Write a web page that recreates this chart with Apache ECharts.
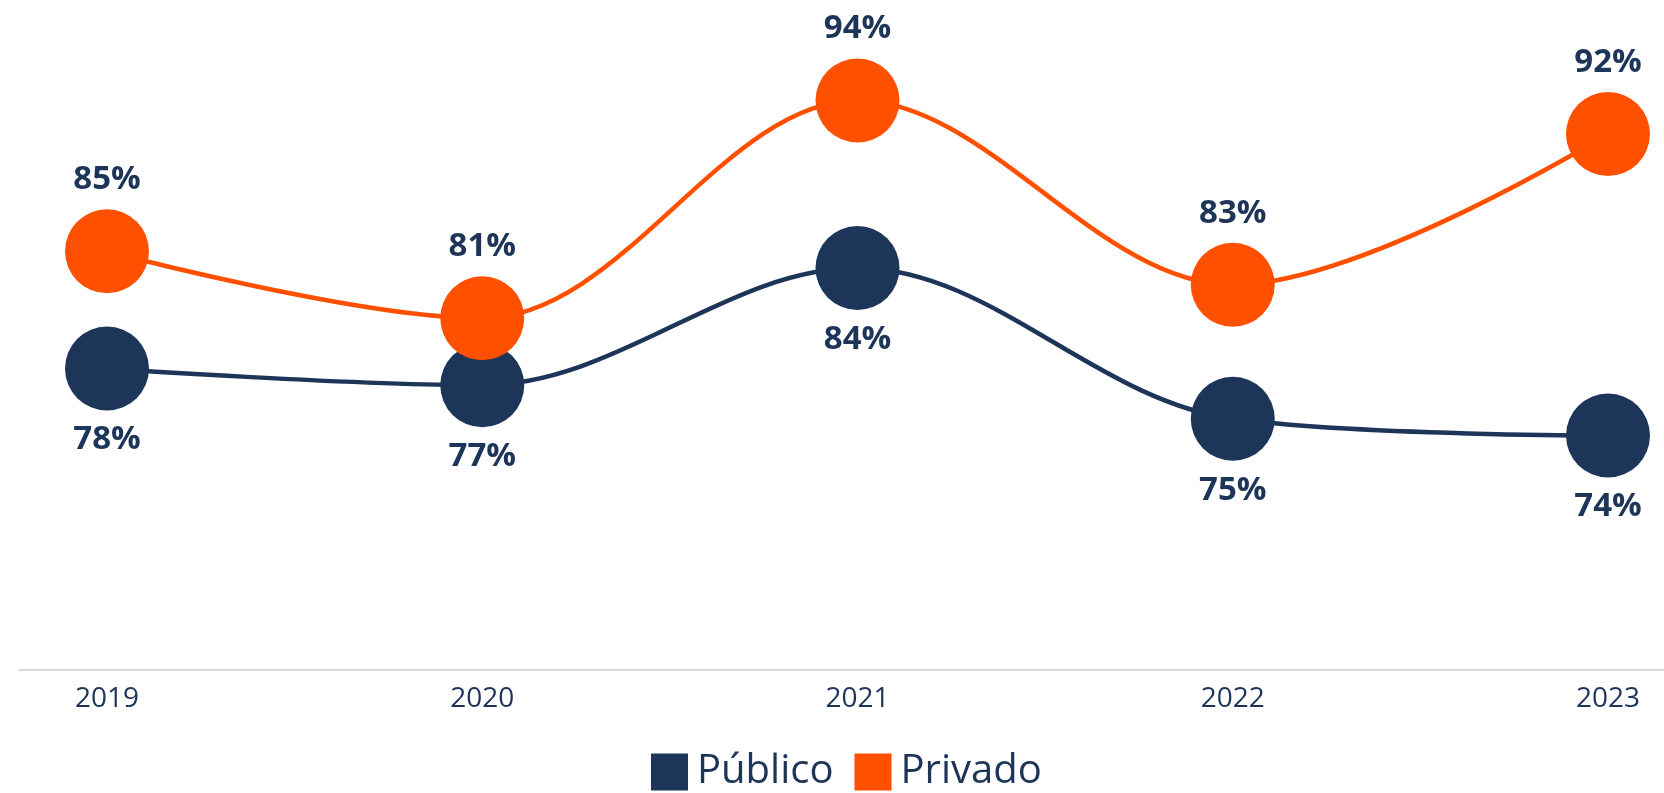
<!DOCTYPE html>
<html>
<head>
<meta charset="utf-8">
<script src="https://cdn.jsdelivr.net/npm/echarts@6/dist/echarts.min.js"></script>
<style>
  html, body { margin: 0; padding: 0; background: #ffffff; }
  #chart { width: 1664px; height: 793px; }
</style>
</head>
<body>
<div id="chart"></div>
<script>
// Years on the horizontal axis
const years = ['2019', '2020', '2021', '2022', '2023'];
// Share (%) by sector
const publico = [78, 77, 84, 75, 74];
const privado = [85, 81, 94, 83, 92];
const seriesNames = ['Público', 'Privado'];

const NAVY = '#1e355a';
const ORANGE = '#ff5000';
const FONT = '"Open Sans", Lato, sans-serif';

const chart = echarts.init(document.getElementById('chart'));

function lineSeries(name, data, color, labelPos) {
  return {
    name: name,
    type: 'line',
    data: data,
    smooth: 0.35,
    symbol: 'circle',
    symbolSize: 84,
    showSymbol: true,
    lineStyle: { color: color, width: 4.5 },
    itemStyle: { color: color },
    label: {
      show: true,
      position: labelPos,
      distance: 13,
      formatter: '{c}%',
      color: NAVY,
      fontFamily: FONT,
      fontWeight: 'bold',
      fontSize: 33
    },
    emphasis: { disabled: true },
    animation: false
  };
}

chart.setOption({
  backgroundColor: '#ffffff',
  animation: false,
  legend: {
    data: seriesNames.map(n => ({ name: n, icon: 'rect' })),
    bottom: 1,
    left: 651,
    padding: 0,
    itemWidth: 37,
    itemHeight: 37,
    itemGap: 21,
    textStyle: { color: NAVY, fontFamily: FONT, fontSize: 40, padding: [0, 0, 0, 4] }
  },
  grid: [
    { left: 107, right: 56, top: 0, bottom: 123 },
    { left: 19, right: 0, top: 0, bottom: 123 }
  ],
  xAxis: [
    {
      type: 'category',
      gridIndex: 0,
      data: years,
      boundaryGap: false,
      axisLine: { show: false },
      axisTick: { show: false },
      axisLabel: { color: NAVY, fontFamily: FONT, fontSize: 28, margin: 15 }
    },
    {
      // baseline rule spanning the full width
      type: 'value',
      gridIndex: 1,
      axisLine: { show: true, onZero: false, lineStyle: { color: '#d9d9d9', width: 2 } },
      axisTick: { show: false },
      axisLabel: { show: false },
      splitLine: { show: false }
    }
  ],
  yAxis: [
    { type: 'value', gridIndex: 0, min: 60, max: 100, show: false },
    { type: 'value', gridIndex: 1, show: false }
  ],
  series: [
    lineSeries(seriesNames[0], publico, NAVY, 'bottom'),
    lineSeries(seriesNames[1], privado, ORANGE, 'top')
  ]
});
</script>
</body>
</html>
